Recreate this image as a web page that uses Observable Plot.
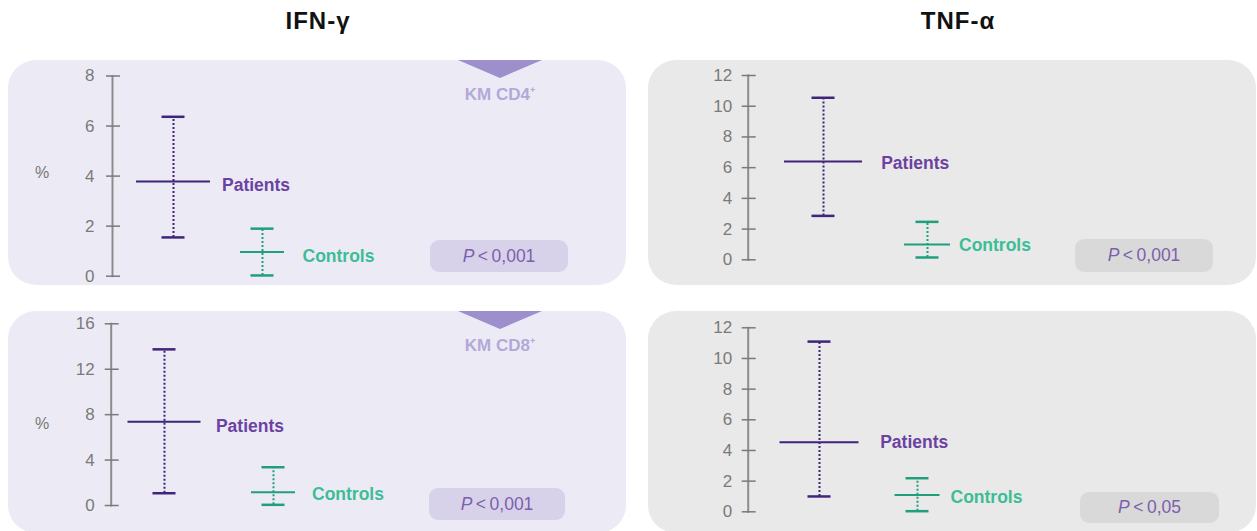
<!DOCTYPE html>
<html>
<head>
<meta charset="utf-8">
<script src="https://cdn.jsdelivr.net/npm/d3@7"></script>
<script src="https://cdn.jsdelivr.net/npm/@observablehq/plot@0.6"></script>
<style>
  body { margin: 0; background: #fff; font-family: "Liberation Sans", Arial, sans-serif; }
  #root { position: relative; width: 1257px; height: 531px; overflow: hidden; }
  .panel { position: absolute; border-radius: 28px; }
  .panel svg { position: absolute; left: 0; top: 0; }
  .title { position: absolute; top: 9px; line-height: 23px; font-size: 24px; font-weight: bold; color: #111; transform: translateX(-50%); letter-spacing: 1px; white-space: nowrap; }
  .pbox { position: absolute; border-radius: 9px; display: flex; align-items: center; justify-content: center; font-size: 17.5px; color: #7d5fad; }
  .km-arrow { position: absolute; width: 0; height: 0; border-left: 42px solid transparent; border-right: 42px solid transparent; border-top: 18px solid #9d8fcb; }
  .km-label { position: absolute; font-size: 17px; font-weight: bold; color: #b3a9d8; transform: translate(-50%, -50%); white-space: nowrap; }
  .km-label sup { font-size: 9px; }
  .pct { position: absolute; font-size: 16px; color: #777; transform: translate(-50%, -50%); }
</style>
</head>
<body>
<div id="root"></div>
<script>
// Groups compared in every panel
const groups = ["Patients", "Controls"];

// Column headings (cytokine) and row subsets (marrow T cells)
const cytokines = ["IFN-γ", "TNF-α"];
const subsets = ["KM CD4", "KM CD8"];

// IFN-γ, CD4+ : mean and range (%)
const ifnCd4Mean = [3.78, 0.97];
const ifnCd4Low = [1.55, 0.03];
const ifnCd4High = [6.37, 1.9];
// TNF-α, CD4+
const tnfCd4Mean = [6.4, 0.99];
const tnfCd4Low = [2.86, 0.15];
const tnfCd4High = [10.55, 2.47];
// IFN-γ, CD8+
const ifnCd8Mean = [7.37, 1.17];
const ifnCd8Low = [1.08, 0.06];
const ifnCd8High = [13.75, 3.37];
// TNF-α, CD8+
const tnfCd8Mean = [4.54, 1.1];
const tnfCd8Low = [1.0, 0.04];
const tnfCd8High = [11.1, 2.19];

// Axis ticks
const ifnCd4Ticks = [0, 2, 4, 6, 8];
const tnfCd4Ticks = [0, 2, 4, 6, 8, 10, 12];
const ifnCd8Ticks = [0, 4, 8, 12, 16];
const tnfCd8Ticks = [0, 2, 4, 6, 8, 10, 12];

// Significance per panel (TL, TR, BL, BR)
const pValues = ["0,001", "0,001", "0,001", "0,05"];

const markColor = {Patients: "#40237a", Controls: "#1f9f7c"};
const labelColor = {Patients: "#6b42a2", Controls: "#3cbd96"};

const root = document.getElementById("root");

function addDiv(cls, css, html) {
  const d = document.createElement("div");
  d.className = cls;
  Object.assign(d.style, css);
  if (html != null) d.innerHTML = html;
  root.appendChild(d);
  return d;
}

// Layout of each panel
const panels = [
  {left: 8, top: 60, w: 618, h: 225, bg: "#ecebf5", pbg: "#d7d2e9",
   mean: ifnCd4Mean, low: ifnCd4Low, high: ifnCd4High, ticks: ifnCd4Ticks,
   mL: 104, mT: 15.5, mB: 9.3, xr: [164.3, 253.7], pad: 12,
   lab: {Patients: [48.5, 4], Controls: [40, 4]}, half: {Patients: 37, Controls: 22},
   p: pValues[0], pbox: [430, 240, 138, 32], km: subsets[0], pct: true},
  {left: 648, top: 60, w: 608, h: 225, bg: "#e9e9e9", pbg: "#d9d9d9",
   mean: tnfCd4Mean, low: tnfCd4Low, high: tnfCd4High, ticks: tnfCd4Ticks,
   mL: 99.7, mT: 15, mB: 25.7, xr: [175.3, 279.3], pad: 10,
   lab: {Patients: [57.7, 2.3], Controls: [31.5, 1]}, half: {Patients: 39, Controls: 23},
   p: pValues[1], pbox: [1075, 239, 138, 33]},
  {left: 8, top: 311, w: 618, h: 222, bg: "#ecebf5", pbg: "#d7d2e9",
   mean: ifnCd8Mean, low: ifnCd8Low, high: ifnCd8High, ticks: ifnCd8Ticks,
   mL: 102.7, mT: 12.3, mB: 28, xr: [156.3, 265.3], pad: 10.5,
   lab: {Patients: [51.4, 5], Controls: [38.5, 2.5]}, half: {Patients: 36.5, Controls: 22},
   p: pValues[2], pbox: [429, 488, 136, 32], km: subsets[1], pct: true},
  {left: 648, top: 311, w: 608, h: 222, bg: "#e9e9e9", pbg: "#d9d9d9",
   mean: tnfCd8Mean, low: tnfCd8Low, high: tnfCd8High, ticks: tnfCd8Ticks,
   mL: 99.7, mT: 16.3, mB: 21.7, xr: [171.3, 269.3], pad: 10,
   lab: {Patients: [60.7, 0], Controls: [33, 2]}, half: {Patients: 39.5, Controls: 22.5},
   p: pValues[3], pbox: [1080, 492, 139, 31]}
];

// Column titles
addDiv("title", {left: "318px"}, cytokines[0]);
addDiv("title", {left: "958px"}, cytokines[1]);

for (const cfg of panels) {
  const box = addDiv("panel", {left: cfg.left + "px", top: cfg.top + "px", width: cfg.w + "px", height: cfg.h + "px", background: cfg.bg});

  const rows = groups.map((g, i) => ({group: g, mean: cfg.mean[i], low: cfg.low[i], high: cfg.high[i]}));

  const marks = [
    Plot.frame({anchor: "left", stroke: "#8c8c8c", strokeWidth: 2}),
    Plot.axisY({ticks: cfg.ticks, tickSize: 14, dx: 8, tickPadding: cfg.pad, fontSize: 17,
      color: "#7a7a7a", strokeWidth: 1.5, label: null, tickFormat: d => String(d)})
  ];
  for (const g of groups) {
    const r = rows.filter(d => d.group === g);
    const c = markColor[g];
    // horizontal segment centred on the group position
    const seg = (y, half, sw) => Plot.ruleY(r, {y, x1: "group", x2: "group", stroke: c, strokeWidth: sw,
      insetLeft: -half, insetRight: -half});
    marks.push(
      Plot.ruleX(r, {x: "group", y1: "low", y2: "high", stroke: c, strokeWidth: 2, strokeDasharray: "2,2"}),
      seg("high", 11.5, 2.5),
      seg("low", 11.5, 2.5),
      seg("mean", cfg.half[g], 2),
      Plot.text(r, {x: "group", y: "mean", text: "group", dx: cfg.lab[g][0], dy: cfg.lab[g][1],
        textAnchor: "start", fill: labelColor[g], fontWeight: "bold", fontSize: 17.5})
    );
  }

  const chart = Plot.plot({
    width: cfg.w, height: cfg.h,
    marginLeft: cfg.mL, marginTop: cfg.mT, marginBottom: cfg.mB, marginRight: 0,
    style: {background: "transparent", overflow: "visible", fontFamily: "'Liberation Sans', Arial, sans-serif"},
    x: {type: "point", domain: groups, range: cfg.xr, padding: 0, axis: null},
    y: {domain: [0, d3.max(cfg.ticks)]},
    marks
  });
  box.appendChild(chart);

  // significance badge
  const [px, py, pw, ph] = cfg.pbox;
  addDiv("pbox", {left: px + "px", top: py + "px", width: pw + "px", height: ph + "px", background: cfg.pbg},
    "<span><i>P</i>&thinsp;&lt;&thinsp;" + cfg.p + "</span>");

  // T-cell subset marker
  if (cfg.km) {
    addDiv("km-arrow", {left: "458px", top: cfg.top + "px"});
    addDiv("km-label", {left: "500px", top: (cfg.top + 35) + "px"}, cfg.km + "<sup>+</sup>");
  }
  if (cfg.pct) {
    addDiv("pct", {left: "42px", top: (cfg.top + 113) + "px"}, "%");
  }
}
</script>
</body>
</html>
